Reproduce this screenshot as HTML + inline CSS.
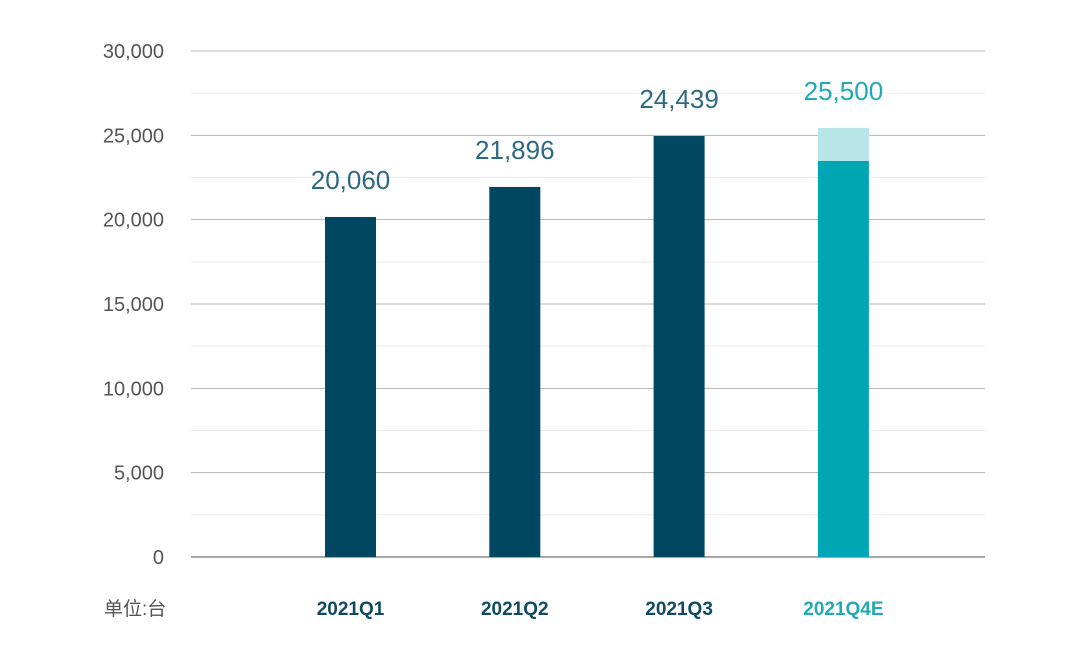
<!DOCTYPE html>
<html><head><meta charset="utf-8"><style>
body{margin:0;background:#fff;}
svg{display:block;font-family:"Liberation Sans","Noto Sans CJK SC",sans-serif;}
</style></head><body>
<svg id="chart" width="1080" height="657"></svg>
<script>
const categories=["2021Q1","2021Q2","2021Q3","2021Q4E"];
const barValues=[20160,21940,24960,23480];
const estimateTotals=[null,null,null,25440];
const valueLabels=["20,060","21,896","24,439","25,500"];
const yTicks=[0,5000,10000,15000,20000,25000,30000];
const yTickLabels=["0","5,000","10,000","15,000","20,000","25,000","30,000"];

const svg=document.getElementById('chart');
const NS="http://www.w3.org/2000/svg";
const y0=557,yTop=51,yMax=30000;
const yScale=v=>y0-(v/yMax)*(y0-yTop);
const xScale=i=>350.5+i*164.3;
const bw=51;
function mk(tag,attrs,parent){const e=document.createElementNS(NS,tag);for(const k in attrs)e.setAttribute(k,attrs[k]);(parent||svg).appendChild(e);return e;}

for(let v=2500;v<yMax;v+=5000){
  const g=mk('line',{x1:191,x2:985,y1:yScale(v),y2:yScale(v),stroke:'#ebebeb','stroke-width':1});
  
  
}
yTicks.forEach((v,i)=>{
  const g=mk('line',{x1:191,x2:985,y1:yScale(v),y2:yScale(v),stroke:v===0?'#888':'#b5b5b5','stroke-width':v===0?1.5:1});
  
  
  const t=mk('text',{x:164,y:yScale(v)+7,'text-anchor':'end','font-size':20,fill:'#555'});
  t.textContent=yTickLabels[i];
  
  
});
categories.forEach((c,i)=>{
  const cx=xScale(i);
  const est=i===3;
  if(estimateTotals[i]!==null){
    const r2=mk('rect',{x:cx-bw/2,y:yScale(estimateTotals[i]),width:bw,height:yScale(barValues[i])-yScale(estimateTotals[i]),fill:'#b7e5e8'});
    
    
  }
  const r=mk('rect',{x:cx-bw/2,y:yScale(barValues[i]),width:bw,height:y0-yScale(barValues[i]),fill:est?'#00a6b4':'#004862'});
  
  
  const top=estimateTotals[i]!==null?estimateTotals[i]:barValues[i];
  const vl=mk('text',{x:cx,y:yScale(top)-28,'text-anchor':'middle','font-size':26,fill:est?'#20aab5':'#2d6a82'});
  vl.textContent=valueLabels[i];
  
  
  const xl=mk('text',{x:cx,y:615,'text-anchor':'middle','font-size':19,'font-weight':'bold',fill:est?'#20aab5':'#0e4a63'});
  xl.textContent=c;
  
  
});
const u=mk('text',{x:104,y:615,'font-size':19,fill:'#555'});
u.textContent="单位:台";


</script>
</body></html>
